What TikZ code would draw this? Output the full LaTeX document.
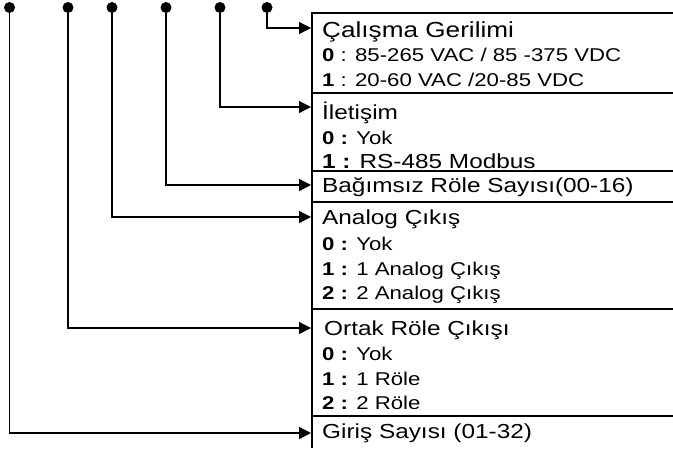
\documentclass[tikz,border=0pt]{standalone}
\usepackage{fontspec}
\setmainfont{Liberation Sans}[FakeStretch=1.2]
\usetikzlibrary{arrows.meta}

\tikzset{
  pin/.style={circle, fill=black, inner sep=0pt, minimum size=11pt},
  wire/.style={line width=1.3pt, -{Triangle[length=12pt,width=12pt]}},
  frame/.style={line width=2pt},
  head/.style={anchor=base west, inner sep=0pt, font=\fontsize{20.3}{24}\selectfont},
  opt/.style={anchor=base west, inner sep=0pt, font=\fontsize{18.5}{22}\selectfont},
}

\begin{document}
\begin{tikzpicture}[x=1pt, y=-1pt]
  \useasboundingbox (0,0) rectangle (673,448);

  % code positions along the top
  \node[pin] (d1) at (9.5,7.5) {};
  \node[pin] (d2) at (68,7.5) {};
  \node[pin] (d3) at (112,7.5) {};
  \node[pin] (d4) at (166,7.5) {};
  \node[pin] (d5) at (220,7.5) {};
  \node[pin] (d6) at (267,7.5) {};

  % frame of the option list
  \draw[frame] (673,13) -- (312,13) -- (312,448);
  \foreach \y in {93,171,202,309,416}
    \draw[frame] (312,\y) -- (673,\y);

  % arrow targets on the left edge of the list
  \coordinate (t6) at (311,28);
  \coordinate (t5) at (311,107);
  \coordinate (t4) at (311,185);
  \coordinate (t3) at (311,217);
  \coordinate (t2) at (311,328);
  \coordinate (t1) at (311,433);

  \draw[wire] (d6) |- (t6);
  \draw[wire] (d5) |- (t5);
  \draw[wire] (d4) |- (t4);
  \draw[wire] (d3) |- (t3);
  \draw[wire] (d2) |- (t2);
  \draw[wire] (d1) |- (t1);

  % supply voltage
  \node[head, font=\fontsize{21.8}{24}\selectfont] (h6) at (322,37) {Çalışma Gerilimi};
  \node[opt] (h6a) at (322,61) {\textbf{0} : 85-265 VAC / 85 -375 VDC};
  \node[opt] (h6b) at (322,86) {\textbf{1} : 20-60 VAC /20-85 VDC};

  % communication
  \node[head] (h5) at (322,119) {İletişim};
  \node[opt] (h5a) at (322,144) {\textbf{0 :} Yok};
  \node[head] (h5b) at (322,168) {\textbf{1 :} RS-485 Modbus};

  % independent relays
  \node[head] (h4) at (322,192) {Bağımsız Röle Sayısı(00-16)};

  % analog output
  \node[head] (h3) at (322,224) {Analog Çıkış};
  \node[opt] (h3a) at (322,250) {\textbf{0 :} Yok};
  \node[opt] (h3b) at (322,275) {\textbf{1 :} 1 Analog Çıkış};
  \node[opt] (h3c) at (322,299) {\textbf{2 :} 2 Analog Çıkış};

  % common relay output
  \node[head] (h2) at (324,335) {Ortak Röle Çıkışı};
  \node[opt] (h2a) at (322,360) {\textbf{0 :} Yok};
  \node[opt] (h2b) at (322,385) {\textbf{1 :} 1 Röle};
  \node[opt] (h2c) at (322,409) {\textbf{2 :} 2 Röle};

  % number of inputs
  \node[head] (h1) at (322,438) {Giriş Sayısı (01-32)};
\end{tikzpicture}
\end{document}
